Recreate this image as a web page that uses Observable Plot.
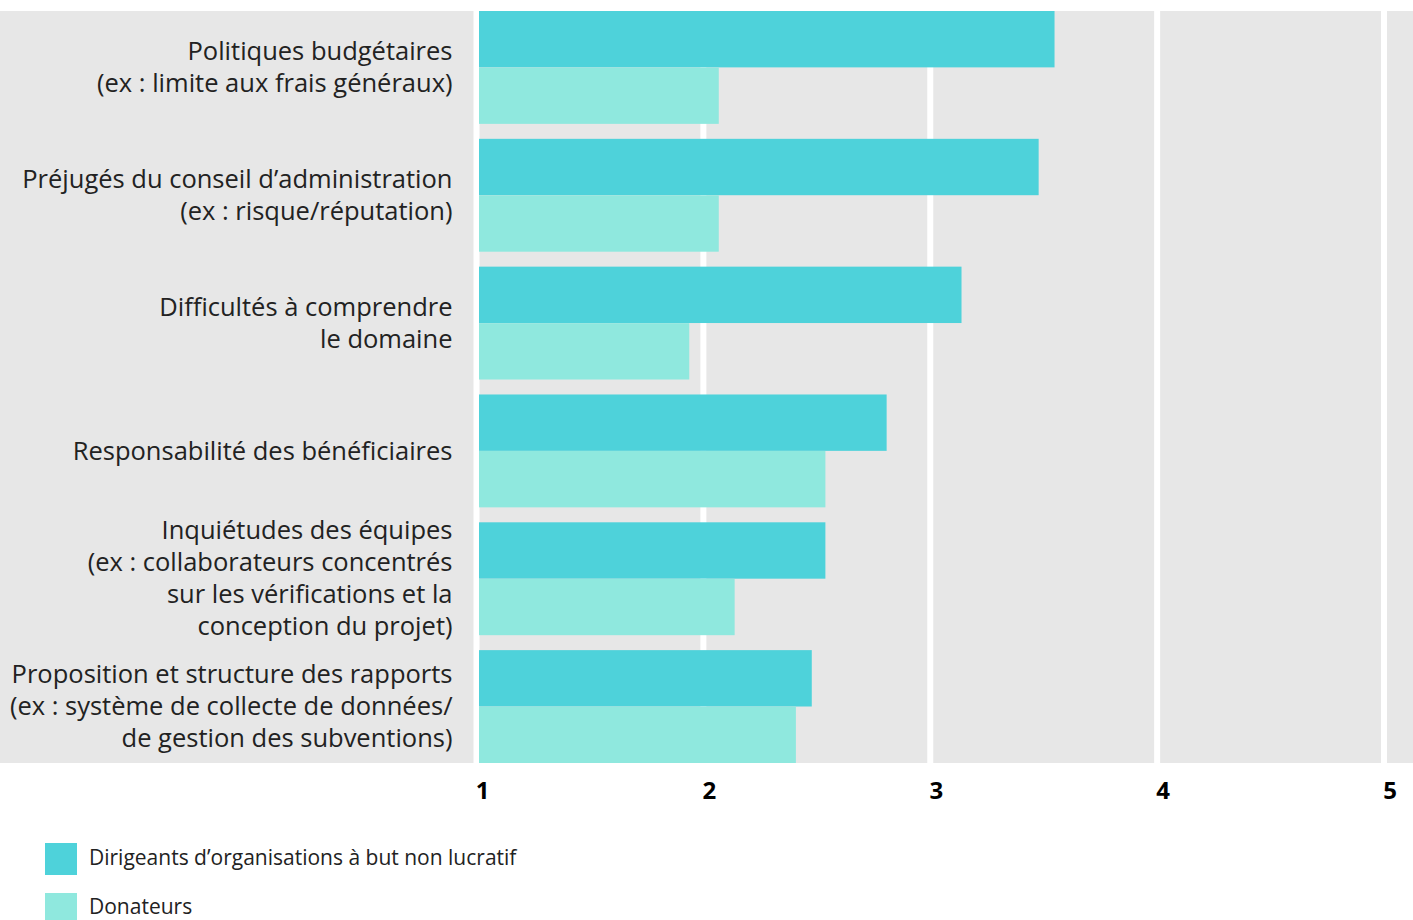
<!DOCTYPE html>
<html>
<head>
<meta charset="utf-8">
<script src="https://cdn.jsdelivr.net/npm/d3@7"></script>
<script src="https://cdn.jsdelivr.net/npm/@observablehq/plot@0.6"></script>
<style>
  body { margin: 0; background: #fff; font-family: "Open Sans", Lato, sans-serif; }
  #wrap { position: relative; width: 1413px; height: 920px; overflow: hidden; }
  #bg { position: absolute; left: 0; top: 11px; width: 1413px; height: 752px; background: #e7e7e7; }
  #chart { position: absolute; left: 0; top: 0; }
  .sw { position: absolute; left: 45px; width: 32px; }
  .lt { position: absolute; left: 89px; font-size: 21px; line-height: 20px; color: #222; white-space: nowrap; }
</style>
</head>
<body>
<div id="wrap">
  <div id="bg"></div>
  <div id="chart"></div>
  <div class="sw" id="s1" style="top:843px;height:32px"></div>
  <div class="lt" id="l1" style="top:847px"></div>
  <div class="sw" id="s2" style="top:893px;height:27px"></div>
  <div class="lt" id="l2" style="top:896px"></div>
</div>
<script>
const categories = [
  "Politiques budgétaires\n(ex : limite aux frais généraux)",
  "Préjugés du conseil d’administration\n(ex : risque/réputation)",
  "Difficultés à comprendre\nle domaine",
  "Responsabilité des bénéficiaires",
  "Inquiétudes des équipes\n(ex : collaborateurs concentrés\nsur les vérifications et la\nconception du projet)",
  "Proposition et structure des rapports\n(ex : système de collecte de données/\nde gestion des subventions)"
];
const dirigeants = [3.55, 3.48, 3.14, 2.81, 2.54, 2.48];
const donateurs = [2.07, 2.07, 1.94, 2.54, 2.14, 2.41];
const seriesNames = ["Dirigeants d’organisations à but non lucratif", "Donateurs"];
const seriesColors = ["#4ed2da", "#8fe8de"];
const xTicks = [1, 2, 3, 4, 5];

const dataA = categories.map((c, i) => ({cat: c, value: dirigeants[i]}));
const dataB = categories.map((c, i) => ({cat: c, value: donateurs[i]}));

const plot = Plot.plot({
  width: 1413,
  height: 820,
  marginLeft: 476,
  marginRight: 29.5,
  marginTop: 11,
  marginBottom: 57,
  style: {fontFamily: "'Open Sans', Lato, sans-serif", background: "transparent", overflow: "visible"},
  x: {domain: [1, 5], axis: null, label: null},
  y: {domain: categories, paddingInner: 0.117, paddingOuter: 0, round: false, axis: null, label: null},
  marks: [
    Plot.gridX(xTicks, {stroke: "#fff", strokeOpacity: 1, strokeWidth: 6}),
    Plot.barX(dataA, {y: "cat", x1: 1, x2: "value", fill: seriesColors[0], insetLeft: 3, insetBottom: 56.5, insetTop: 0}),
    Plot.barX(dataB, {y: "cat", x1: 1, x2: "value", fill: seriesColors[1], insetLeft: 3, insetTop: 56.5, insetBottom: 0}),
    Plot.axisY({tickSize: 0, tickPadding: 24, fontSize: 25.5, lineHeight: 1.255, dy: -2, fill: "#222", textAnchor: "end", label: null}),
    Plot.axisX(xTicks, {tickSize: 0, tickPadding: 18, fontSize: 24, fontWeight: "bold", fill: "#000", dx: 6, label: null, tickFormat: d => String(d)})
  ]
});
document.getElementById("chart").appendChild(plot);
document.getElementById("s1").style.background = seriesColors[0];
document.getElementById("s2").style.background = seriesColors[1];
document.getElementById("l1").textContent = seriesNames[0];
document.getElementById("l2").textContent = seriesNames[1];
</script>
</body>
</html>
